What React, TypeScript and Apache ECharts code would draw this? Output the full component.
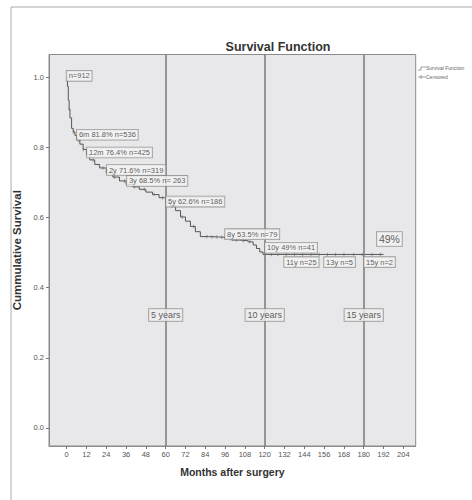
import React, { useEffect, useRef } from "react";
import * as echarts from "echarts";

// Kaplan-Meier curve
const months = [0, 0.5, 1, 1.5, 2, 3, 4, 5, 6, 8, 10, 12, 14, 17, 20, 24, 28, 32, 36, 40, 44, 48, 52, 56, 60, 63, 66, 69, 72, 75, 78, 81, 86, 92, 96, 100, 105, 110, 113, 115, 117, 119, 192];
const survival = [1.0, 0.975, 0.935, 0.91, 0.885, 0.855, 0.845, 0.835, 0.822, 0.81, 0.795, 0.78, 0.765, 0.752, 0.742, 0.728, 0.716, 0.705, 0.695, 0.688, 0.681, 0.673, 0.666, 0.657, 0.643, 0.633, 0.62, 0.602, 0.59, 0.575, 0.56, 0.546, 0.545, 0.544, 0.54, 0.536, 0.534, 0.531, 0.522, 0.512, 0.502, 0.495, 0.495];

// censored observations (months)
const censoredMonths = [1.5, 4, 7, 10, 16, 22, 29, 35, 41, 47, 53, 58, 64, 70, 77, 85, 88, 91, 94, 99, 103, 107, 111, 124, 128, 133, 138, 143, 148, 153, 158, 163, 168, 174, 179, 185, 190];

// tick labels
const xTicks = [0, 12, 24, 36, 48, 60, 72, 84, 96, 108, 120, 132, 144, 156, 168, 180, 192, 204];
const yTicks = [0, 0.2, 0.4, 0.6, 0.8, 1.0];

// reference lines
const refMonths = [60, 120, 180];
const refLabels = ["5 years", "10 years", "15 years"];
const refLabelLevel = 0.322;

// curve annotations: text, month, survival level
const noteTexts = ["n=912", "6m 81.8% n=536", "12m 76.4% n=425", "2y 71.6% n=319", "3y 68.5% n= 263", "5y 62.6% n=186", "8y 53.5% n=79", "10y 49% n=41", "11y n=25", "13y n=5", "15y n=2"];
const noteMonths = [0, 6.2, 12.3, 24.4, 36.5, 60.2, 96, 120.2, 131.8, 156, 180.2];
const noteLevels = [1.005, 0.837, 0.786, 0.736, 0.705, 0.646, 0.553, 0.514, 0.473, 0.473, 0.473];
const bigNote = { text: "49%", month: 188, level: 0.539 };

function survivalAt(t: number): number {
  let s = survival[0];
  for (let i = 0; i < months.length; i++) {
    if (months[i] <= t) s = survival[i];
  }
  return s;
}

const FONT = "'Liberation Sans', Arial, sans-serif";

export default function App() {
  const ref = useRef<HTMLDivElement>(null);
  useEffect(() => {
    document.body.style.margin = "0";
    const chart = echarts.init(ref.current!, undefined, { renderer: "svg" });
    const curve = months.map((m, i) => [m, survival[i]]);
    const censored = censoredMonths.map((m) => [m, survivalAt(m)]);
    const noteBox = {
      show: true,
      position: "right" as const,
      distance: 0,
      fontSize: 7.5,
      fontFamily: FONT,
      color: "#333",
      backgroundColor: "#f2f2f2",
      borderColor: "#888",
      borderWidth: 0.8,
      padding: [1, 2, 1, 2],
    };
    chart.setOption({
      animation: false,
      backgroundColor: "#ffffff",
      textStyle: { fontFamily: FONT },
      grid: {
        left: 49,
        right: 472 - 415.7,
        top: 54.5,
        bottom: 500 - 446,
        show: true,
        backgroundColor: "#e8e8ea",
        borderColor: "#8a8a8a",
        borderWidth: 1,
      },
      xAxis: {
        type: "value",
        min: -10.7,
        max: 211.5,
        name: "Months after surgery",
        nameLocation: "middle",
        nameGap: 20,
        nameTextStyle: { fontSize: 10.5, fontWeight: "bold", color: "#333", fontFamily: FONT },
        splitLine: { show: false },
        axisLine: { show: true, onZero: false, lineStyle: { color: "#8a8a8a" } },
        axisTick: { show: true, length: 3, lineStyle: { color: "#777" }, customValues: xTicks },
        axisLabel: { color: "#555", fontSize: 7.5, margin: 4, customValues: xTicks, fontFamily: FONT },
      },
      yAxis: {
        type: "value",
        min: -0.052,
        max: 1.066,
        name: "Cummulative Survival",
        nameLocation: "middle",
        nameGap: 22,
        nameTextStyle: { fontSize: 11.5, fontWeight: "bold", color: "#333", fontFamily: FONT },
        splitLine: { show: false },
        axisLine: { show: true, onZero: false, lineStyle: { color: "#8a8a8a" } },
        axisTick: { show: true, length: 3, lineStyle: { color: "#777" }, customValues: yTicks },
        axisLabel: {
          color: "#555",
          fontSize: 7.5,
          margin: 5,
          customValues: yTicks,
          fontFamily: FONT,
          formatter: (v: number) => v.toFixed(1),
        },
      },
      series: [
        {
          type: "line",
          name: "Survival Function",
          data: curve,
          step: "end",
          showSymbol: false,
          lineStyle: { color: "#555", width: 1 },
          z: 3,
          markLine: {
            silent: true,
            symbol: "none",
            label: { show: false },
            lineStyle: { color: "#7a7a7a", width: 1.5, type: "solid" },
            data: refMonths.map((m) => ({ xAxis: m })),
          },
        },
        {
          type: "scatter",
          name: "Censored",
          data: censored,
          symbol: "rect",
          symbolSize: [0.8, 3.5],
          itemStyle: { color: "#666" },
          z: 3,
        },
        {
          type: "scatter",
          data: refMonths.map((m, i) => ({ value: [m, refLabelLevel], name: refLabels[i] })),
          symbolSize: 0,
          z: 5,
          label: {
            show: true,
            position: "inside",
            formatter: (p: any) => p.name,
            fontSize: 9,
            fontFamily: FONT,
            color: "#333",
            backgroundColor: "#eeeeee",
            borderColor: "#888",
            borderWidth: 0.8,
            padding: [2, 2, 1, 2],
          },
        },
        {
          type: "scatter",
          data: noteTexts.map((t, i) => ({ value: [noteMonths[i], noteLevels[i]], name: t })),
          symbolSize: 0,
          z: 5,
          label: { ...noteBox, formatter: (p: any) => p.name },
        },
        {
          type: "scatter",
          data: [{ value: [bigNote.month, bigNote.level], name: bigNote.text }],
          symbolSize: 0,
          z: 5,
          label: {
            ...noteBox,
            fontSize: 10.5,
            padding: [2, 2, 1, 2],
            formatter: (p: any) => p.name,
          },
        },
      ],
      graphic: [
        {
          type: "rect",
          shape: { x: 11, y: 7, width: 480, height: 520 },
          style: { fill: "none", stroke: "#aaaaaa", lineWidth: 1 },
          silent: true,
          z: -1,
        },
        {
          type: "text",
          x: 278,
          y: 47,
          style: {
            text: "Survival Function",
            fontSize: 12.5,
            fontWeight: "bold",
            fontFamily: FONT,
            fill: "#333",
            align: "center",
            verticalAlign: "middle",
          },
        },
        {
          type: "polyline",
          shape: { points: [[418, 70], [421, 70], [421, 67], [426, 67]] },
          style: { stroke: "#777", lineWidth: 0.7, fill: "none" },
        },
        {
          type: "text",
          x: 426,
          y: 68,
          style: { text: "Survival Function", fontSize: 5, fontFamily: FONT, fill: "#666", verticalAlign: "middle" },
        },
        {
          type: "line",
          shape: { x1: 418, y1: 77, x2: 426, y2: 77 },
          style: { stroke: "#777", lineWidth: 0.7 },
        },
        {
          type: "line",
          shape: { x1: 421, y1: 75, x2: 421, y2: 79 },
          style: { stroke: "#777", lineWidth: 0.7 },
        },
        {
          type: "text",
          x: 426,
          y: 77,
          style: { text: "Censored", fontSize: 5, fontFamily: FONT, fill: "#666", verticalAlign: "middle" },
        },
      ],
    });
    return () => chart.dispose();
  }, []);
  return <div ref={ref} style={{ width: 472, height: 500 }} />;
}
